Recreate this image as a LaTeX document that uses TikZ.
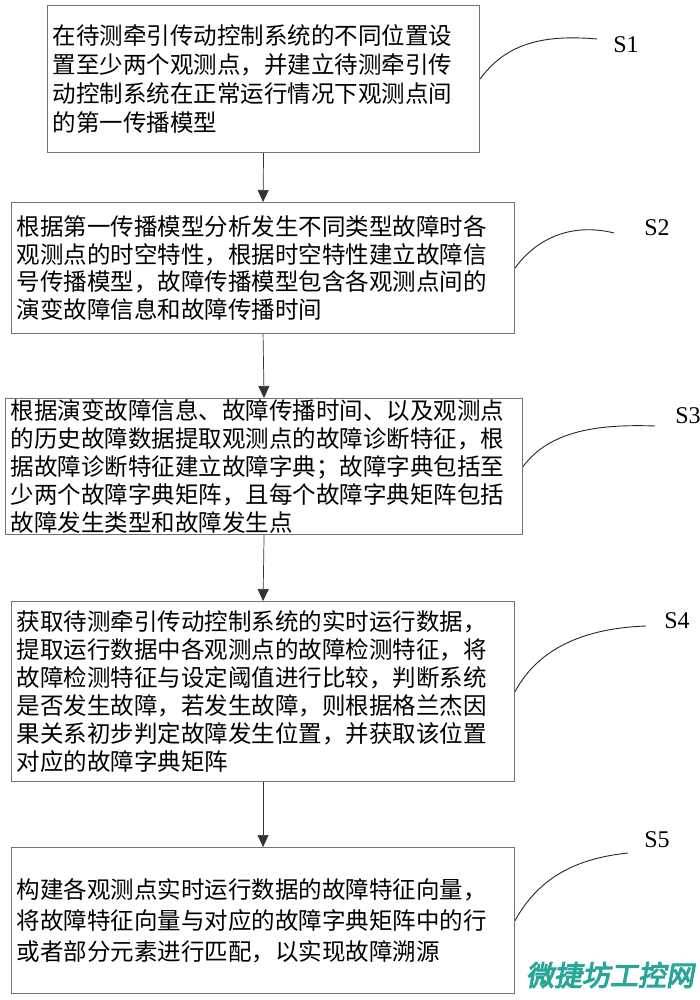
\documentclass[tikz,border=0pt]{standalone}
\usepackage{fontspec}
\setmainfont{Liberation Serif}
\newfontfamily\cjk{Noto Sans CJK SC}
\newfontfamily\wmfont[FakeSlant=0.18,FakeBold=4]{Noto Sans CJK SC}
\usetikzlibrary{arrows.meta}
\tikzset{
  box/.style={draw=black!55, line width=1.1pt, inner xsep=5pt, inner ysep=0pt,
    align=left, anchor=north west, rectangle},
  arr/.style={draw=black!80, line width=0.7pt, -{Triangle[width=11pt,length=12pt]}},
  lead/.style={draw=black!85, line width=0.9pt},
  slabel/.style={font=\fontsize{24}{24}\selectfont, inner sep=0pt},
}
\newcommand{\cjkfs}[1]{\cjk\fontsize{23.5}{#1}\selectfont}
\begin{document}
\begin{tikzpicture}[x=1pt,y=-1pt]
\useasboundingbox (0,0) rectangle (700,1000);
\fill[white] (0,0) rectangle (700,1000);

\node[box, text width=422pt, minimum height=147pt, font=\cjkfs{29.3}] (b1) at (47,5)
 {在待测牵引传动控制系统的不同位置设\\置至少两个观测点，并建立待测牵引传\\动控制系统在正常运行情况下观测点间\\的第一传播模型};
\node[box, text width=493pt, minimum height=131pt, font=\cjkfs{27.7}] (b2) at (11,202)
 {根据第一传播模型分析发生不同类型故障时各\\观测点的时空特性，根据时空特性建立故障信\\号传播模型，故障传播模型包含各观测点间的\\演变故障信息和故障传播时间};
\node[box, text width=507pt, minimum height=136pt, font=\cjkfs{28}] (b3) at (5,398)
 {根据演变故障信息、故障传播时间、以及观测点\\的历史故障数据提取观测点的故障诊断特征，根\\据故障诊断特征建立故障字典；故障字典包括至\\少两个故障字典矩阵，且每个故障字典矩阵包括\\故障发生类型和故障发生点};
\node[box, text width=493pt, minimum height=180pt, font=\cjkfs{28}] (b4) at (11,601)
 {获取待测牵引传动控制系统的实时运行数据，\\提取运行数据中各观测点的故障检测特征，将\\故障检测特征与设定阈值进行比较，判断系统\\是否发生故障，若发生故障，则根据格兰杰因\\果关系初步判定故障发生位置，并获取该位置\\对应的故障字典矩阵};
\node[box, text width=493pt, minimum height=146pt, font=\cjkfs{31}] (b5) at (11,847)
 {构建各观测点实时运行数据的故障特征向量，\\将故障特征向量与对应的故障字典矩阵中的行\\或者部分元素进行匹配，以实现故障溯源};

\draw[arr] (b1.south) -- (b2.north);
\draw[arr] (b2.south) -- (b3.north);
\draw[arr] (b3.south) -- (b4.north);
\draw[arr] (b4.south) -- (b5.north);

\node[slabel] (s1) at (626,45) {S1};
\node[slabel] (s2) at (657,228) {S2};
\node[slabel] (s3) at (688,416) {S3};
\node[slabel] (s4) at (677,621) {S4};
\node[slabel] (s5) at (657,840) {S5};

\coordinate (e1) at (597,39);
\coordinate (e2) at (614,233);
\coordinate (e3) at (655,426);
\coordinate (e4) at (646,626);
\coordinate (e5) at (628,853);

\draw[lead] (b1.east) .. controls (505,45) and (540,34) .. (e1);
\draw[lead] (b2.east) .. controls (535,240) and (570,222) .. (e2);
\draw[lead] (b3.east) .. controls (550,430) and (600,424) .. (e3);
\draw[lead] (b4.east) .. controls (540,645) and (590,628) .. (e4);
\draw[lead] (b5.east) .. controls (540,875) and (580,858) .. (e5);

\node[font=\wmfont\fontsize{28}{28}\selectfont, text={rgb,255:red,40;green,166;blue,152}, inner sep=0pt] (wm) at (610,975) {微捷坊工控网};
\end{tikzpicture}
\end{document}
